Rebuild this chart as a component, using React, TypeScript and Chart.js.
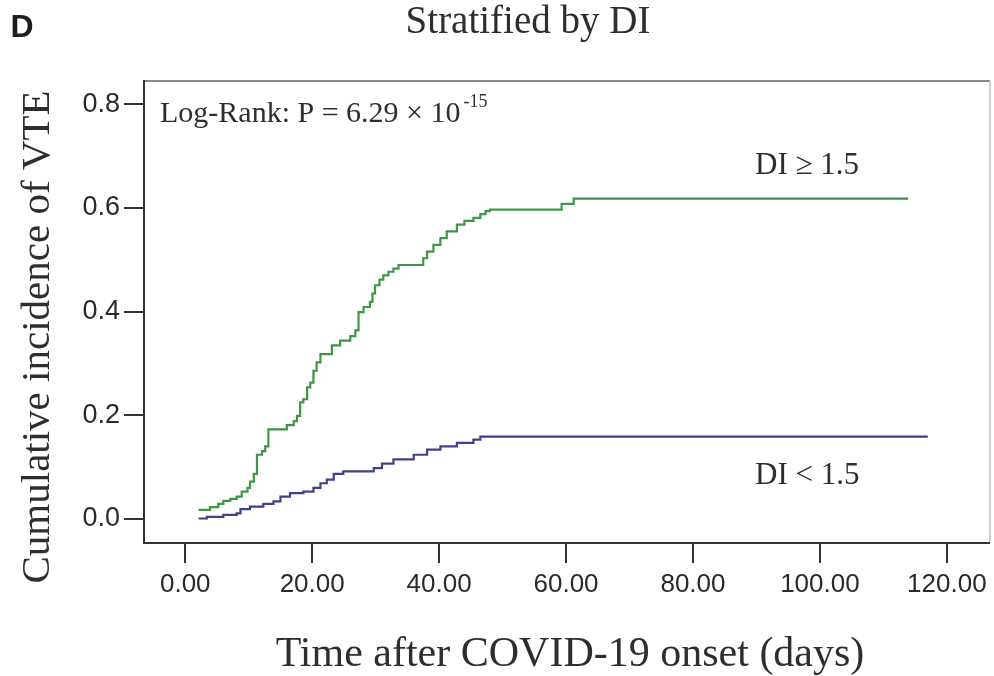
import React, { useEffect, useRef } from 'react';
import { Chart, registerables } from 'chart.js';

Chart.register(...registerables);

// ---- data ----
const xTickValues = [0, 20, 40, 60, 80, 100, 120];
const yTickValues = [0, 0.2, 0.4, 0.6, 0.8];

const highDays = [2.1, 3.9, 5.2, 6.0, 7.1, 8.1, 8.9, 9.8, 10.2, 10.8, 11.3, 12.1, 12.6, 13.1, 16.0, 17.1, 17.6, 18.1, 18.6, 19.2, 19.7, 20.2, 20.7, 21.3, 23.1, 24.4, 26.0, 26.8, 27.3, 28.1, 29.1, 29.5, 29.9, 30.6, 31.2, 32.0, 32.8, 33.6, 37.5, 38.1, 39.1, 40.2, 41.2, 42.8, 44.0, 45.4, 46.5, 47.3, 48.0, 59.3, 61.2, 113.9];
const highCI = [0.0175, 0.023, 0.029, 0.035, 0.039, 0.043, 0.053, 0.06, 0.072, 0.087, 0.124, 0.131, 0.14, 0.173, 0.181, 0.189, 0.199, 0.225, 0.231, 0.254, 0.263, 0.286, 0.302, 0.318, 0.335, 0.344, 0.353, 0.364, 0.399, 0.409, 0.419, 0.435, 0.451, 0.462, 0.47, 0.477, 0.483, 0.49, 0.503, 0.516, 0.529, 0.542, 0.555, 0.568, 0.575, 0.581, 0.588, 0.594, 0.597, 0.608, 0.618, 0.618];

const lowDays = [2.1, 3.4, 6.0, 8.1, 8.7, 10.2, 12.3, 13.9, 15.0, 16.5, 18.6, 20.2, 21.3, 22.3, 23.4, 24.9, 29.7, 31.0, 32.8, 36.0, 38.1, 40.2, 42.8, 45.4, 46.5, 117.0];
const lowCI = [0.001, 0.004, 0.008, 0.011, 0.019, 0.024, 0.029, 0.034, 0.043, 0.05, 0.053, 0.06, 0.069, 0.076, 0.087, 0.092, 0.098, 0.107, 0.115, 0.124, 0.134, 0.14, 0.147, 0.153, 0.159, 0.159];

const seriesNames = ['DI \u2265 1.5', 'DI < 1.5'];
const panelLetter = 'D';
const chartTitle = 'Stratified by DI';
const xTitle = 'Time after COVID-19 onset (days)';
const yTitle = 'Cumulative incidence of VTE';
const logRankMain = 'Log-Rank: P = 6.29 \u00d7 10';
const logRankExp = '-15';

const X_MIN = -6.5;
const X_MAX = 126.8;
const Y_MIN = -0.0463;
const Y_MAX = 0.845;

const SERIF = '"Liberation Serif", "Times New Roman", serif';
const SANS = '"Liberation Sans", Arial, sans-serif';

const overlayPlugin = {
  id: 'overlay',
  afterDraw(chart: any) {
    const { ctx, chartArea } = chart;
    const { left, right, top, bottom } = chartArea;
    ctx.save();
    // frame
    ctx.lineWidth = 2;
    ctx.strokeStyle = '#8a8a8a';
    ctx.beginPath();
    ctx.moveTo(left, top);
    ctx.lineTo(right, top);
    ctx.stroke();
    ctx.strokeStyle = '#cfcfcf';
    ctx.beginPath();
    ctx.moveTo(right, top);
    ctx.lineTo(right, bottom);
    ctx.stroke();
    ctx.strokeStyle = '#333';
    ctx.beginPath();
    ctx.moveTo(left, top - 1);
    ctx.lineTo(left, bottom);
    ctx.lineTo(right, bottom);
    ctx.stroke();

    ctx.fillStyle = '#1e1e1e';
    // panel letter
    ctx.font = `bold 32px ${SANS}`;
    ctx.textAlign = 'center';
    ctx.textBaseline = 'middle';
    ctx.fillText(panelLetter, 22, 28);

    // title
    ctx.fillStyle = '#2e2e2e';
    ctx.font = `39px ${SERIF}`;
    ctx.fillText(chartTitle, 528, 23);

    // x title
    ctx.font = `42px ${SERIF}`;
    ctx.fillText(xTitle, 570, 655);

    // y title
    ctx.save();
    ctx.translate(38, 337);
    ctx.rotate(-Math.PI / 2);
    ctx.font = `41px ${SERIF}`;
    ctx.fillText(yTitle, 0, 0);
    ctx.restore();

    // log-rank
    ctx.textAlign = 'left';
    ctx.textBaseline = 'alphabetic';
    ctx.font = `30px ${SERIF}`;
    ctx.fillText(logRankMain, 160, 122);
    const w = ctx.measureText(logRankMain).width;
    ctx.font = `18px ${SERIF}`;
    ctx.fillText(logRankExp, 160 + w + 3, 107);

    // series labels
    ctx.font = `31px ${SERIF}`;
    ctx.fillText(seriesNames[0], 755, 174);
    ctx.fillText(seriesNames[1], 755, 484);
    ctx.restore();
  },
};

export default function App() {
  const ref = useRef<HTMLCanvasElement | null>(null);
  useEffect(() => {
    if (!ref.current) return;
    const chart = new Chart(ref.current, {
      type: 'line',
      data: {
        datasets: [
          {
            label: seriesNames[0],
            data: highDays.map((d, i) => ({ x: d, y: highCI[i] })),
            borderColor: '#3f9646',
            borderWidth: 2.2,
            pointRadius: 0,
            stepped: 'before',
            fill: false,
          },
          {
            label: seriesNames[1],
            data: lowDays.map((d, i) => ({ x: d, y: lowCI[i] })),
            borderColor: '#42428c',
            borderWidth: 2.2,
            pointRadius: 0,
            stepped: 'before',
            fill: false,
          },
        ],
      },
      options: {
        animation: false,
        responsive: false,
        devicePixelRatio: 1,
        layout: { padding: { top: 81, right: 4, left: 0, bottom: 0 } },
        plugins: { legend: { display: false }, tooltip: { enabled: false }, title: { display: false } },
        scales: {
          x: {
            type: 'linear',
            min: X_MIN,
            max: X_MAX,
            afterBuildTicks: (s: any) => {
              s.ticks = xTickValues.map((v) => ({ value: v }));
            },
            afterFit: (s: any) => {
              s.height = 133;
            },
            grid: { drawOnChartArea: false, drawTicks: true, tickLength: 20, color: '#333', lineWidth: 2 },
            border: { display: false },
            ticks: {
              autoSkip: false,
              maxRotation: 0,
              padding: 6,
              color: '#2a2a2a',
              font: { family: SANS, size: 26 },
              callback: (v: any) => Number(v).toFixed(2),
            },
          },
          y: {
            type: 'linear',
            min: Y_MIN,
            max: Y_MAX,
            afterBuildTicks: (s: any) => {
              s.ticks = yTickValues.map((v) => ({ value: v }));
            },
            afterFit: (s: any) => {
              s.width = 144;
            },
            grid: { drawOnChartArea: false, drawTicks: true, tickLength: 20, color: '#333', lineWidth: 2 },
            border: { display: false },
            ticks: {
              autoSkip: false,
              padding: 4,
              color: '#2a2a2a',
              font: { family: SANS, size: 27 },
              callback: (v: any) => Number(v).toFixed(1),
            },
          },
        },
      },
      plugins: [overlayPlugin],
    });
    return () => chart.destroy();
  }, []);

  return (
    <div style={{ position: 'absolute', left: 0, top: 0, width: 994, height: 676, background: '#fff' }}>
      <canvas ref={ref} width={994} height={676} style={{ display: 'block', width: 994, height: 676 }} />
    </div>
  );
}
